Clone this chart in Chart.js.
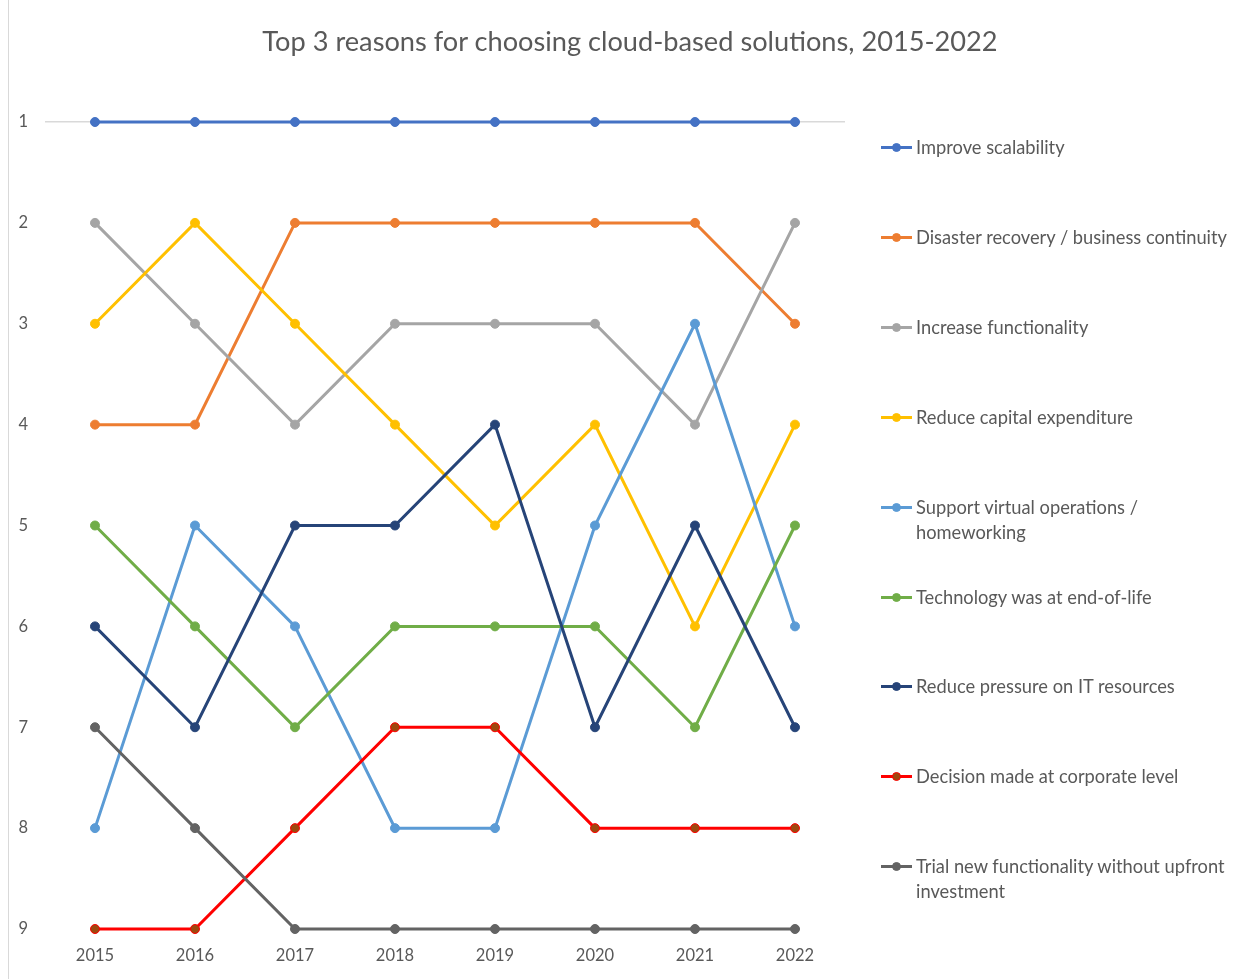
<!DOCTYPE html>
<html lang="en">
<head>
  <meta charset="UTF-8" />
  <title>Top 3 reasons for choosing cloud-based solutions</title>
  <script src="https://cdn.jsdelivr.net/npm/chart.js"></script>
  <style>
    * { margin: 0; padding: 0; box-sizing: border-box; }
    body { width: 1250px; height: 979px; background: #fff; font-family: 'Lato', sans-serif; overflow: hidden; }
    .wrap { position: relative; width: 1250px; height: 979px; }
    .edge { position: absolute; left: 8px; top: 0; bottom: 0; border-left: 1px solid #d9d9d9; }
    h1 { position: absolute; left: 0; width: 1260px; top: 24px; text-align: center; font-size: 27.2px; font-weight: normal; color: #595959; line-height: 34px; }
    #legend { position: absolute; left: 881px; top: 0; }
    .item { position: absolute; left: 0; display: flex; align-items: flex-start; width: 380px; }
    .item .key { position: relative; width: 35px; height: 25px; flex: none; }
    .item .key i { position: absolute; left: 0; right: 4px; top: 11px; height: 3px; }
    .item .key b { position: absolute; left: 11px; top: 8px; width: 9px; height: 9px; border-radius: 50%; }
    .item span { width: 318px; font-size: 18.3px; line-height: 25px; color: #595959; }
  </style>
</head>
<body>
  <div class="wrap">
    <div class="edge"></div>
    <canvas id="chart" width="1250" height="979"></canvas>
    <h1>Top 3 reasons for choosing cloud-based solutions, 2015-2022</h1>
    <div id="legend"></div>
  </div>

  <script>
    const years = ['2015', '2016', '2017', '2018', '2019', '2020', '2021', '2022'];
    const rankTicks = [1, 2, 3, 4, 5, 6, 7, 8, 9];

    const improveScalability   = [1, 1, 1, 1, 1, 1, 1, 1];
    const disasterRecovery     = [4, 4, 2, 2, 2, 2, 2, 3];
    const increaseFunction     = [2, 3, 4, 3, 3, 3, 4, 2];
    const reduceCapex          = [3, 2, 3, 4, 5, 4, 6, 4];
    const supportVirtual       = [8, 5, 6, 8, 8, 5, 3, 6];
    const techEndOfLife        = [5, 6, 7, 6, 6, 6, 7, 5];
    const reducePressure       = [6, 7, 5, 5, 4, 7, 5, 7];
    const corporateDecision    = [9, 9, 8, 7, 7, 8, 8, 8];
    const trialFunctionality   = [7, 8, 9, 9, 9, 9, 9, 9];

    const series = [
      { label: 'Improve scalability', data: improveScalability, color: '#4472C4' },
      { label: 'Disaster recovery / business continuity', data: disasterRecovery, color: '#ED7D31' },
      { label: 'Increase functionality', data: increaseFunction, color: '#A5A5A5' },
      { label: 'Reduce capital expenditure', data: reduceCapex, color: '#FFC000' },
      { label: 'Support virtual operations / homeworking', data: supportVirtual, color: '#5B9BD5' },
      { label: 'Technology was at end-of-life', data: techEndOfLife, color: '#70AD47' },
      { label: 'Reduce pressure on IT resources', data: reducePressure, color: '#264478' },
      { label: 'Decision made at corporate level', data: corporateDecision, color: '#FF0000', fill: '#9E480E' },
      { label: 'Trial new functionality without upfront investment', data: trialFunctionality, color: '#636363' }
    ];

    // html legend, evenly spaced down the right side
    const legend = document.getElementById('legend');
    series.forEach((s, i) => {
      const div = document.createElement('div');
      div.className = 'item';
      div.style.top = (135 + i * 89.9) + 'px';
      div.innerHTML = '<div class="key"><i style="background:' + s.color + '"></i>' +
        '<b style="background:' + (s.fill || s.color) + ';border:1px solid ' + s.color + '"></b></div>' +
        '<span>' + s.label + '</span>';
      legend.appendChild(div);
    });

    Chart.defaults.font.family = 'Lato, sans-serif';
    Chart.defaults.color = '#595959';

    new Chart(document.getElementById('chart'), {
      type: 'line',
      data: {
        labels: years,
        datasets: series.map((s, i) => ({
          label: s.label,
          data: s.data,
          borderColor: s.color,
          backgroundColor: s.fill || s.color,
          pointBackgroundColor: s.fill || s.color,
          pointBorderColor: s.color,
          pointBorderWidth: 1,
          pointRadius: 4.5,
          borderWidth: 3,
          tension: 0,
          clip: false,
          order: series.length - i
        }))
      },
      options: {
        responsive: false,
        animation: false,
        layout: { padding: { top: 122, right: 405, bottom: 0, left: 0 } },
        plugins: {
          legend: { display: false },
          tooltip: { enabled: false },
          title: { display: false }
        },
        scales: {
          x: {
            offset: true,
            grid: { display: false },
            border: { display: false },
            ticks: { font: { size: 16.5 }, padding: 9 },
            afterFit: (scale) => { scale.height = 50; }
          },
          y: {
            reverse: true,
            min: 1,
            max: 9,
            afterBuildTicks: (scale) => { scale.ticks = rankTicks.map(v => ({ value: v })); },
            ticks: { font: { size: 16.5 }, padding: 17 },
            grid: {
              drawTicks: false,
              color: (ctx) => ctx.tick && ctx.tick.value === 1 ? '#d9d9d9' : 'rgba(0,0,0,0)',
              lineWidth: 1.5
            },
            border: { display: false },
            afterFit: (scale) => { scale.width = 45; }
          }
        }
      }
    });
  </script>
</body>
</html>
